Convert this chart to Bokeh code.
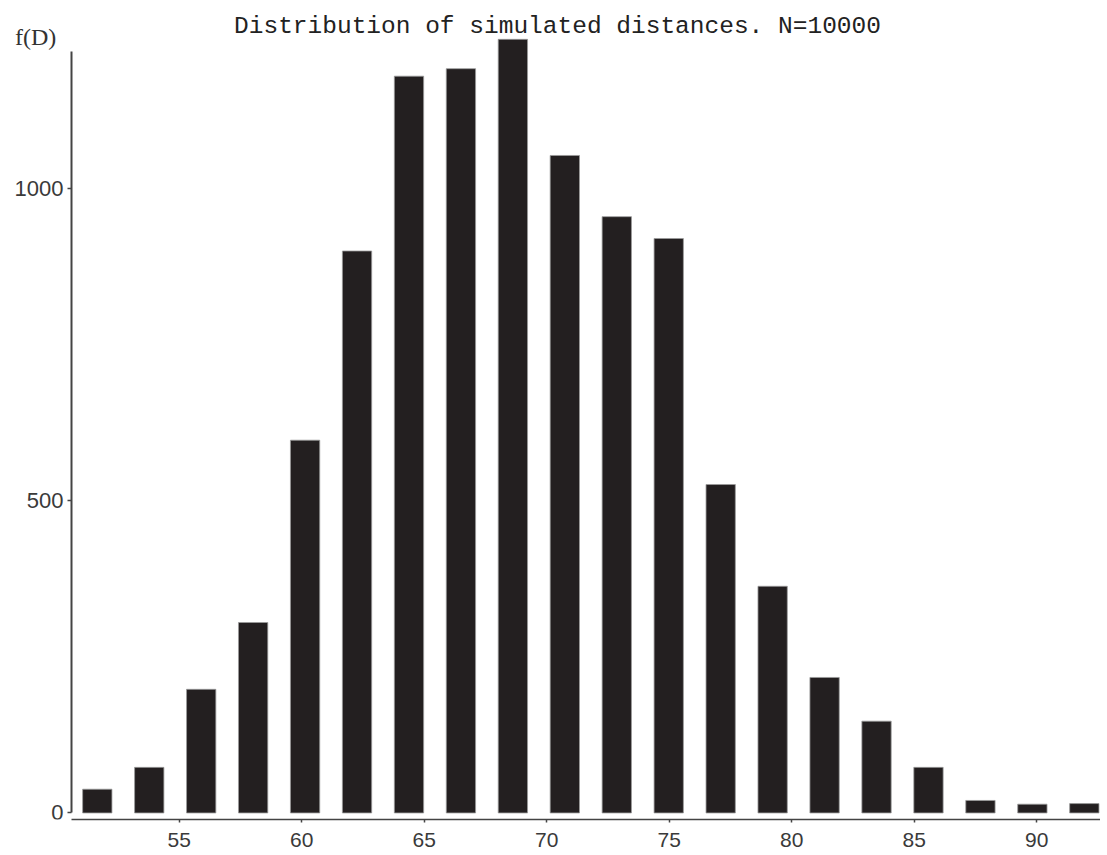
from bokeh.plotting import figure
from bokeh.models import Range1d, FixedTicker, Label
from bokeh.embed import file_html
from bokeh.resources import INLINE

# bin centres of the histogram (distance D) and counts f(D)
bin_centers = [51.66, 53.78, 55.90, 58.02, 60.14, 62.26, 64.38, 66.50, 68.62, 70.74,
               72.86, 74.98, 77.10, 79.22, 81.34, 83.46, 85.58, 87.70, 89.82, 91.94]
counts = [38, 73, 198, 305, 597, 900, 1180, 1192, 1239, 1053,
          955, 920, 526, 363, 217, 147, 73, 20, 14, 15]
x_ticks = [55, 60, 65, 70, 75, 80, 85, 90]
y_ticks = [0, 500, 1000]
title_text = "Distribution of simulated distances. N=10000"
y_label = "f(D)"

X_AXIS_START = 50.61
X_END = 92.6

p = figure(width=1100, height=855, output_backend="svg", toolbar_location=None,
           x_range=Range1d(47.71, X_END), y_range=Range1d(-10.5, 1301.2),
           min_border_left=0, min_border_right=0, min_border_top=0,
           min_border_bottom=36)

p.vbar(x=bin_centers, top=counts, bottom=0, width=1.196,
       fill_color="#231f20", line_color="#9a9a9a", line_width=0.8)

p.xgrid.visible = False
p.ygrid.visible = False
p.outline_line_color = None
p.background_fill_color = "white"
p.border_fill_color = "white"

xa = p.xaxis[0]
xa.ticker = FixedTicker(ticks=x_ticks)
xa.bounds = (X_AXIS_START, X_END)
xa.minor_tick_line_color = None
xa.major_tick_in = 0
xa.major_tick_out = 3
xa.major_label_standoff = 10
xa.axis_line_color = "#444444"
xa.axis_line_width = 1.5
xa.major_tick_line_color = "#444444"
xa.major_tick_line_width = 1.5
xa.major_label_text_font = "Liberation Sans"
xa.major_label_text_font_size = "21px"
xa.major_label_text_color = "#3a3a3a"

ya = p.yaxis[0]
ya.fixed_location = X_AXIS_START
ya.ticker = FixedTicker(ticks=y_ticks)
ya.bounds = (0, 1220)
ya.minor_tick_line_color = None
ya.major_tick_in = 0
ya.major_tick_out = 4
ya.major_label_standoff = 4
ya.axis_line_color = "#444444"
ya.axis_line_width = 2
ya.major_tick_line_color = "#444444"
ya.major_tick_line_width = 1.5
ya.major_label_text_font = "Liberation Sans"
ya.major_label_text_font_size = "22px"
ya.major_label_text_color = "#3a3a3a"

title_lab = Label(x=70.44, y=1259, text=title_text, text_font="Liberation Mono",
                  text_font_size="24.5px", text_color="#222222",
                  text_baseline="middle", text_align="center")
p.add_layout(title_lab)

ylab = Label(x=48.30, y=1243, text=y_label, text_font="Liberation Serif",
             text_font_size="24px", text_color="#333333",
             text_baseline="middle", text_align="left")
p.add_layout(ylab)

open("out.html", "w").write(file_html(p, INLINE))
